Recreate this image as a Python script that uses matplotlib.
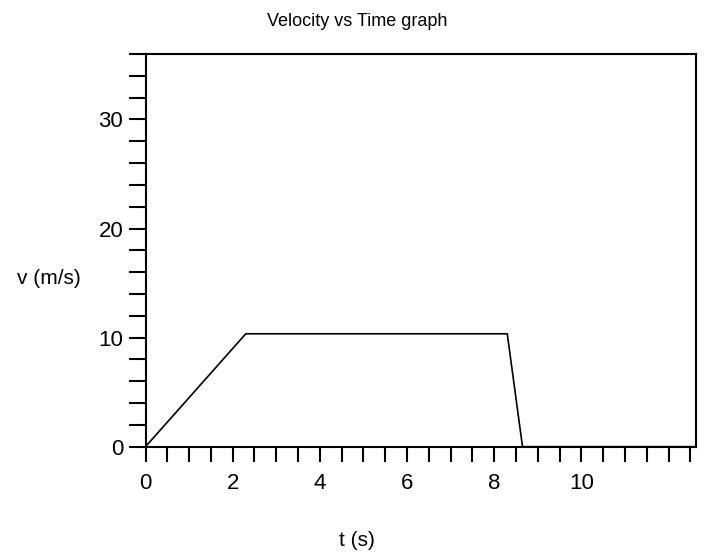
import numpy as np
import matplotlib.pyplot as plt
from matplotlib.ticker import MultipleLocator

plt.rcParams['font.family'] = ['Liberation Sans', 'DejaVu Sans']

# data
t = [0, 2.3, 8.3, 8.65, 12.63]
v = [0, 10.35, 10.35, 0, 0]

x_labels = [0, 2, 4, 6, 8, 10]
y_labels = [0, 10, 20, 30]

fig = plt.figure(figsize=(7.04, 5.54), dpi=100)
ax = fig.add_axes([0.2067, 0.1937, 0.7819, 0.7088])

ax.plot(t, v, color='black', linewidth=1.2)

ax.set_xlim(0, 12.63)
ax.set_ylim(0, 36)

ax.set_xticks(x_labels)
ax.set_yticks(y_labels)
ax.xaxis.set_minor_locator(MultipleLocator(0.5))
ax.yaxis.set_minor_locator(MultipleLocator(2))

for which in ('major', 'minor'):
    ax.tick_params(axis='x', which=which, direction='out', length=11, width=1.5, pad=8)
    ax.tick_params(axis='y', which=which, direction='out', length=12, width=1.5, pad=4)
ax.tick_params(labelsize=16)

for s in ax.spines.values():
    s.set_linewidth(1.5)

fig.text(0.507, 0.962, 'Velocity vs Time graph', ha='center', va='center', fontsize=13)
fig.text(0.07, 0.498, 'v (m/s)', ha='center', va='center', fontsize=15)
fig.text(0.507, 0.025, 't (s)', ha='center', va='center', fontsize=15)

plt.savefig('out.png', dpi=100)
